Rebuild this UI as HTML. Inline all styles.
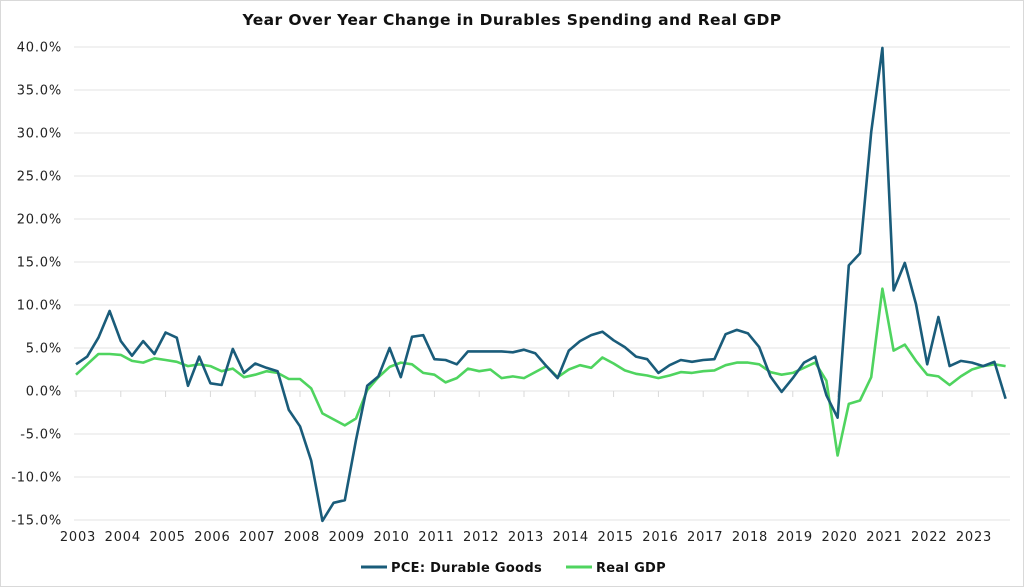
<!DOCTYPE html>
<html><head><meta charset="utf-8"><style>
body{margin:0;background:#fff;}
svg{display:block;font-family:"DejaVu Sans","Liberation Sans",sans-serif;}
</style></head><body>
<svg id="chart" width="1024" height="588" viewBox="0 0 1024 588" xmlns="http://www.w3.org/2000/svg">
<rect x="0.5" y="0.5" width="1023" height="586" fill="#fff" stroke="#d9d9d9"/>
<text x="512" y="25" text-anchor="middle" font-size="15.5" letter-spacing="0.4" font-weight="bold" fill="#111">Year Over Year Change in Durables Spending and Real GDP</text>
<g id="grid"></g>
<g id="yaxis"></g>
<g id="xaxis"></g>
<g id="series"></g>
<g>
 <g>
  <line x1="361" y1="567" x2="387" y2="567" stroke="#1a5c7a" stroke-width="3"/>
  <text x="391" y="572" font-size="13" letter-spacing="0.3" font-weight="bold" fill="#111">PCE: Durable Goods</text>
 </g>
 <g>
  <line x1="566" y1="567" x2="592" y2="567" stroke="#4fd45f" stroke-width="3"/>
  <text x="596" y="572" font-size="13" letter-spacing="0.3" font-weight="bold" fill="#111">Real GDP</text>
 </g>
</g>
</svg>
<script>
const yearLabels = ["2003","2004","2005","2006","2007","2008","2009","2010","2011","2012","2013","2014","2015","2016","2017","2018","2019","2020","2021","2022","2023"];
const yTicks = [40,35,30,25,20,15,10,5,0,-5,-10,-15];
const pce = [3.1,4.0,6.2,9.3, 5.8,4.1,5.8,4.3, 6.8,6.2,0.6,4.0, 0.9,0.7,4.9,2.1, 3.2,2.7,2.3,-2.2,
 -4.1,-8.1,-15.1,-13.0, -12.7,-5.7,0.6,1.7, 5.0,1.6,6.3,6.5, 3.7,3.6,3.1,4.6, 4.6,4.6,4.6,4.5,
 4.8,4.4,2.9,1.5, 4.7,5.8,6.5,6.9, 5.9,5.1,4.0,3.7, 2.1,3.0,3.6,3.4, 3.6,3.7,6.6,7.1,
 6.7,5.1,1.7,-0.1, 1.5,3.3,4.0,-0.5, -3.1,14.6,16.0,30.1, 39.9,11.7,14.9,10.1, 3.1,8.6,2.9,3.5,
 3.3,2.9,3.4,-0.9];
const gdp = [1.9,3.1,4.3,4.3, 4.2,3.5,3.3,3.8, 3.6,3.4,2.9,3.1, 2.9,2.3,2.6,1.6, 1.9,2.3,2.1,1.4,
 1.4,0.3,-2.6,-3.3, -4.0,-3.2,0.1,1.6, 2.8,3.3,3.1,2.1, 1.9,1.0,1.5,2.6, 2.3,2.5,1.5,1.7,
 1.5,2.2,2.9,1.6, 2.5,3.0,2.7,3.9, 3.2,2.4,2.0,1.8, 1.5,1.8,2.2,2.1, 2.3,2.4,3.0,3.3,
 3.3,3.1,2.2,1.9, 2.1,2.7,3.3,1.2, -7.5,-1.5,-1.1,1.6, 11.9,4.7,5.4,3.5, 1.9,1.7,0.7,1.7,
 2.5,2.9,3.1,2.9];

const NS="http://www.w3.org/2000/svg";
const X0=76, QW=11.2, Y0=391, YS=8.6, XL=74, XR=1010;
function xs(i){return X0+i*QW;}
function ys(v){return Y0-v*YS;}
function mk(tag,attrs,parent){const e=document.createElementNS(NS,tag);for(const k in attrs)e.setAttribute(k,attrs[k]);parent.appendChild(e);return e;}
const grid=document.getElementById('grid'), yax=document.getElementById('yaxis'), xax=document.getElementById('xaxis'), ser=document.getElementById('series');
yTicks.forEach(t=>{
  const l=mk('line',{x1:XL,x2:XR,y1:ys(t),y2:ys(t),stroke:'#e3e3e3','stroke-width':1},grid);
  
  
  const tx=mk('text',{x:62,y:ys(t)+4.5,'text-anchor':'end','font-size':'13','letter-spacing':'0.8',fill:'#222'},yax);
  
  
  tx.textContent=t.toFixed(1)+'%';
});
yearLabels.forEach((y,i)=>{
  const x=xs(i*4);
  const tk=mk('line',{x1:x,x2:x,y1:Y0,y2:Y0+6,stroke:'#d9d9d9','stroke-width':1},xax);
  
  
  const tx=mk('text',{x:x+2,y:541,'text-anchor':'middle','font-size':'13','letter-spacing':'0.8',fill:'#222'},xax);
  
  
  tx.textContent=y;
});
function line(data,color,name){
  const d=data.map((v,i)=>(i?'L':'M')+xs(i).toFixed(1)+','+ys(v).toFixed(1)).join('');
  const p=mk('path',{d:d,fill:'none',stroke:color,'stroke-width':2.6,'stroke-linejoin':'round'},ser);
  
  
}
line(gdp,'#4fd45f','real-gdp-line');
line(pce,'#1a5c7a','pce-durable-goods-line');
</script>
</body></html>
